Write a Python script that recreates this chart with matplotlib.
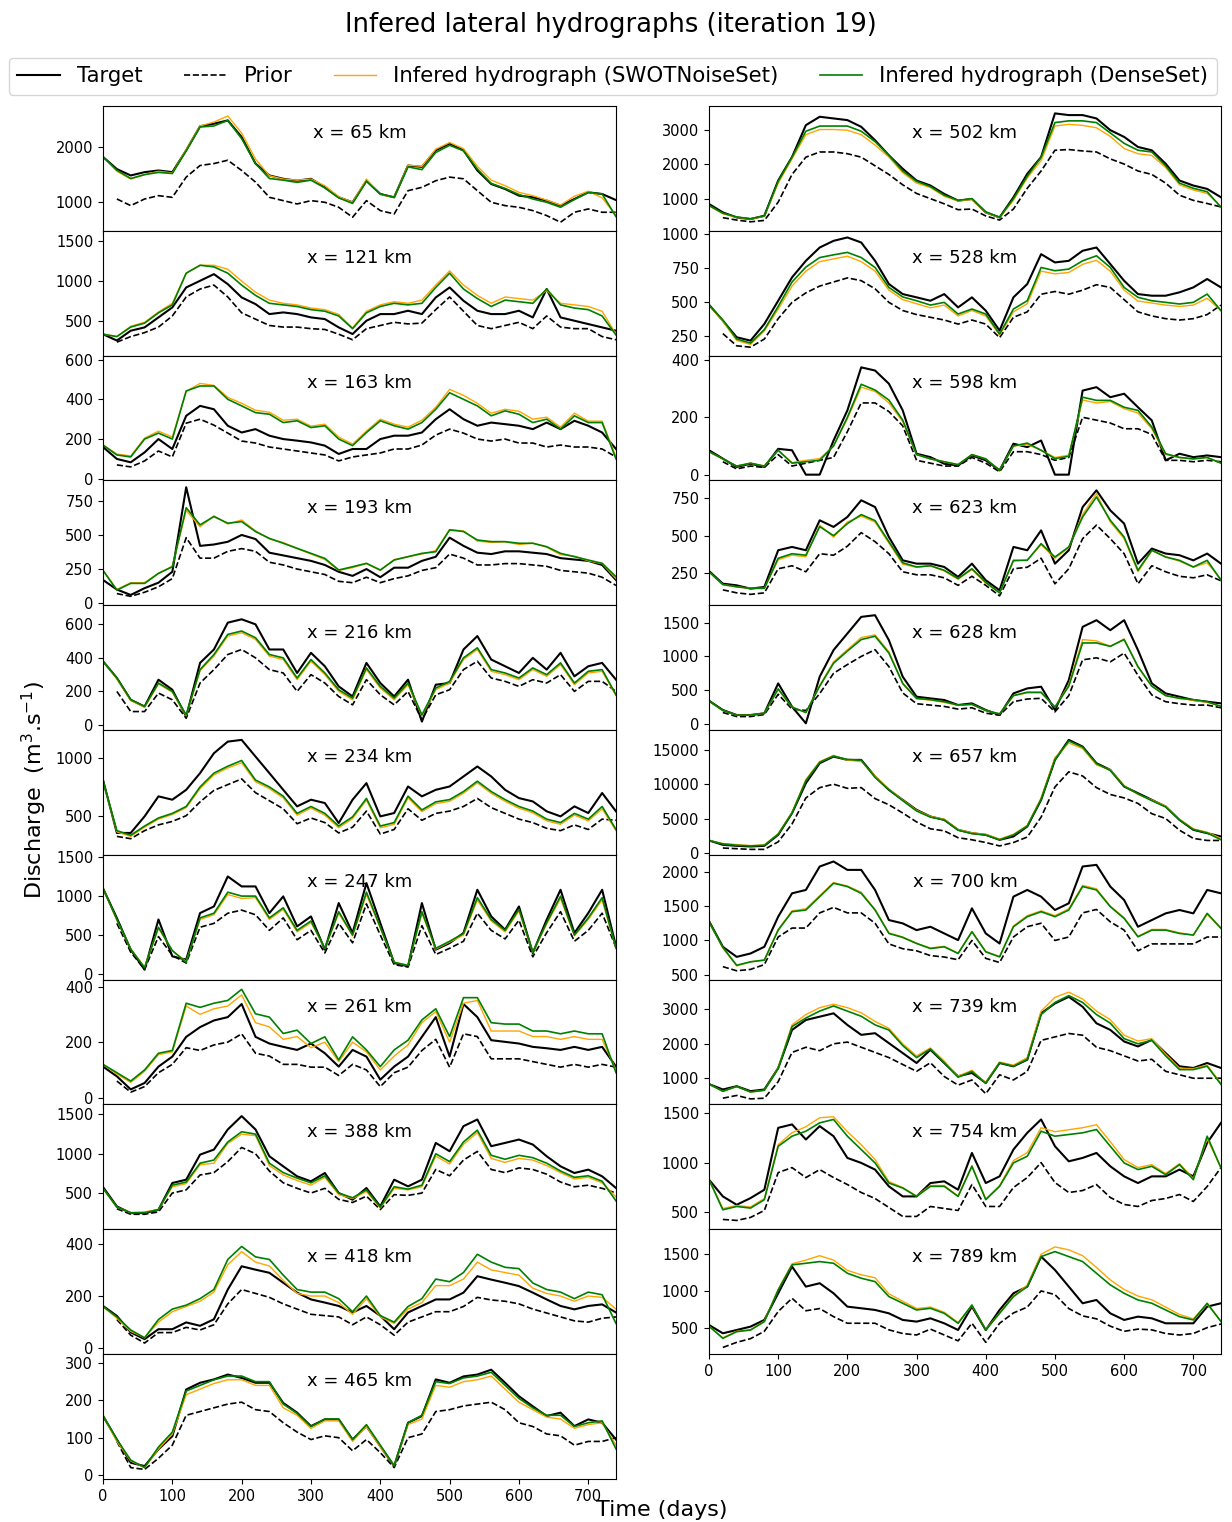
import numpy as np
import matplotlib
matplotlib.use("Agg")
import matplotlib.pyplot as plt

nan = np.nan

# sampling grid (days)
days = np.arange(0, 741, 20)

# --- left column --------------------------------------------------------
t065 = [1820, 1600, 1485, 1545, 1575, 1545, 1940, 2375, 2420, 2480, 2180, 1700, 1485, 1425, 1390, 1425, 1270, 1090, 1000, 1390, 1150, 1090, 1665, 1640, 1940, 2060, 1940, 1575, 1330, 1240, 1120, 1090, 1030, 940, 1060, 1180, 1150, 1040]
p065 = [nan, 1060, 940, 1060, 1120, 1090, 1455, 1665, 1700, 1760, 1575, 1365, 1090, 1030, 970, 1030, 1000, 910, 730, 1030, 850, 790, 1210, 1270, 1390, 1455, 1425, 1210, 1000, 940, 910, 850, 760, 640, 820, 880, 820, 820]
s065 = [1820, 1560, 1420, 1500, 1560, 1530, 1950, 2380, 2450, 2560, 2250, 1780, 1480, 1420, 1400, 1420, 1300, 1100, 1000, 1420, 1140, 1090, 1670, 1650, 1960, 2080, 1970, 1650, 1400, 1300, 1180, 1120, 1040, 950, 1110, 1200, 1080, 760]
d065 = [1820, 1580, 1430, 1500, 1540, 1520, 1930, 2360, 2380, 2480, 2150, 1700, 1430, 1400, 1360, 1400, 1260, 1080, 980, 1380, 1150, 1090, 1640, 1590, 1900, 2030, 1930, 1600, 1340, 1250, 1140, 1060, 1000, 910, 1050, 1180, 1150, 740]

t121 = [330, 250, 374, 416, 542, 668, 920, 1004, 1088, 962, 794, 710, 584, 605, 584, 542, 521, 416, 332, 500, 584, 584, 626, 584, 794, 920, 752, 626, 584, 584, 626, 542, 900, 542, 500, 458, 416, 374]
p121 = [nan, 230, 300, 350, 420, 560, 800, 900, 950, 800, 600, 520, 440, 420, 420, 400, 390, 330, 260, 400, 440, 480, 460, 470, 640, 800, 620, 440, 400, 440, 480, 400, 560, 420, 400, 400, 300, 260]
s121 = [330, 300, 430, 480, 610, 720, 1100, 1200, 1200, 1150, 1000, 860, 760, 720, 700, 660, 640, 580, 410, 620, 700, 740, 720, 760, 950, 1130, 950, 820, 720, 800, 780, 760, 880, 720, 700, 680, 620, 330]
d121 = [330, 300, 420, 470, 600, 700, 1100, 1200, 1180, 1100, 950, 820, 720, 700, 680, 640, 620, 560, 400, 600, 680, 720, 700, 720, 920, 1100, 900, 780, 680, 760, 740, 720, 900, 700, 660, 640, 560, 320]

t163 = [160, 100, 83, 133, 200, 150, 317, 367, 350, 267, 233, 250, 217, 200, 192, 183, 167, 125, 150, 150, 200, 217, 217, 233, 300, 350, 300, 267, 283, 275, 267, 250, 283, 250, 292, 267, 233, 150]
p163 = [nan, 70, 60, 90, 140, 110, 280, 300, 270, 230, 190, 180, 160, 150, 140, 130, 120, 90, 110, 120, 130, 150, 150, 170, 220, 250, 230, 200, 190, 200, 180, 180, 160, 170, 160, 160, 150, 110]
s163 = [170, 125, 115, 205, 240, 210, 440, 480, 470, 410, 380, 345, 335, 295, 300, 265, 275, 210, 175, 240, 300, 275, 260, 295, 360, 450, 420, 380, 330, 350, 340, 300, 310, 260, 330, 290, 290, 110]
d163 = [170, 120, 110, 200, 230, 200, 442, 467, 467, 400, 367, 333, 325, 283, 292, 258, 267, 200, 167, 233, 292, 267, 250, 283, 350, 433, 400, 367, 317, 342, 325, 283, 300, 250, 317, 283, 283, 100]

t193 = [170, 100, 60, 110, 150, 230, 850, 420, 430, 450, 500, 470, 370, 350, 330, 310, 280, 230, 200, 250, 190, 260, 260, 310, 340, 480, 420, 370, 360, 380, 380, 370, 360, 330, 320, 310, 280, 170]
p193 = [nan, 70, 50, 80, 120, 180, 480, 330, 330, 380, 400, 380, 300, 280, 250, 230, 210, 160, 150, 190, 150, 180, 200, 240, 260, 360, 330, 280, 280, 290, 290, 280, 270, 240, 230, 220, 190, 130]
s193 = [240, 100, 150, 150, 220, 270, 680, 560, 640, 580, 610, 530, 470, 445, 400, 360, 320, 240, 260, 290, 240, 320, 340, 360, 385, 540, 530, 455, 445, 450, 430, 440, 410, 355, 345, 310, 290, 180]
d193 = [240, 96, 145, 145, 218, 267, 700, 574, 635, 586, 598, 525, 475, 439, 402, 365, 328, 243, 267, 292, 243, 316, 341, 365, 377, 537, 525, 463, 451, 451, 439, 439, 414, 365, 341, 316, 292, 194]

t216 = [380, 280, 150, 110, 270, 210, 50, 370, 450, 610, 630, 600, 450, 450, 310, 430, 350, 230, 170, 370, 250, 170, 270, 20, 240, 250, 450, 530, 390, 350, 310, 400, 330, 430, 290, 350, 370, 270]
p216 = [nan, 200, 80, 80, 190, 150, 40, 250, 330, 420, 450, 400, 330, 310, 200, 300, 250, 170, 120, 270, 180, 120, 200, 30, 180, 210, 330, 380, 280, 260, 230, 270, 250, 300, 200, 260, 260, 200]
s216 = [380, 275, 145, 105, 245, 195, 55, 325, 410, 530, 550, 510, 410, 390, 270, 380, 300, 200, 150, 330, 220, 150, 240, 55, 210, 250, 390, 450, 320, 300, 270, 330, 290, 360, 240, 310, 320, 175]
d216 = [380, 280, 150, 110, 250, 200, 60, 330, 420, 540, 560, 520, 420, 400, 280, 390, 310, 210, 160, 340, 230, 160, 250, 60, 220, 260, 400, 460, 330, 310, 280, 340, 300, 370, 250, 320, 330, 180]

t234 = [812, 350, 350, 494, 668, 639, 725, 870, 1043, 1144, 1159, 1014, 870, 725, 581, 639, 610, 436, 639, 783, 494, 523, 754, 668, 725, 754, 841, 928, 841, 725, 653, 624, 538, 494, 581, 523, 697, 538]
p234 = [nan, 320, 300, 370, 420, 450, 500, 620, 720, 770, 820, 700, 630, 560, 430, 480, 440, 350, 400, 540, 340, 380, 560, 460, 520, 540, 580, 650, 570, 520, 470, 440, 390, 370, 420, 380, 470, 460]
s234 = [800, 360, 320, 400, 470, 510, 570, 735, 855, 915, 960, 795, 735, 655, 505, 565, 505, 395, 475, 635, 395, 425, 655, 535, 605, 625, 695, 785, 695, 625, 565, 525, 455, 425, 505, 455, 560, 370]
d234 = [800, 370, 330, 410, 480, 520, 580, 750, 870, 930, 980, 810, 750, 670, 520, 580, 520, 410, 490, 650, 410, 440, 670, 550, 620, 640, 710, 800, 710, 640, 580, 540, 470, 440, 520, 470, 580, 380]

t247 = [1100, 718, 312, 55, 700, 226, 184, 782, 867, 1252, 1124, 1124, 782, 996, 611, 739, 312, 910, 526, 1167, 654, 141, 98, 910, 312, 397, 526, 1081, 739, 568, 867, 269, 697, 1081, 526, 782, 1081, 355]
p247 = [nan, 650, 280, 60, 480, 240, 140, 600, 650, 780, 820, 760, 560, 720, 440, 560, 270, 650, 400, 900, 500, 120, 90, 620, 250, 330, 420, 780, 560, 450, 690, 220, 530, 800, 420, 560, 780, 340]
s247 = [1100, 690, 320, 90, 590, 300, 160, 700, 760, 1020, 970, 980, 700, 830, 540, 660, 330, 780, 490, 1020, 590, 150, 110, 780, 320, 410, 500, 950, 680, 540, 810, 280, 640, 970, 490, 700, 950, 330]
d247 = [1100, 700, 320, 80, 600, 300, 150, 720, 780, 1050, 1000, 1000, 720, 850, 560, 680, 330, 800, 500, 1050, 600, 150, 110, 800, 330, 420, 520, 980, 700, 560, 830, 280, 660, 1000, 500, 720, 980, 330]

t261 = [112, 77, 30, 53, 112, 148, 219, 254, 278, 290, 337, 219, 195, 183, 172, 195, 160, 112, 172, 148, 65, 112, 148, 219, 290, 148, 337, 290, 207, 201, 195, 183, 178, 172, 183, 172, 183, 112]
p261 = [nan, 60, 20, 40, 90, 120, 180, 170, 190, 200, 230, 160, 150, 120, 120, 110, 110, 80, 120, 100, 40, 90, 110, 170, 210, 110, 230, 220, 140, 140, 140, 130, 120, 110, 120, 110, 120, 110]
s261 = [120, 85, 55, 95, 155, 165, 330, 300, 320, 330, 370, 270, 255, 210, 220, 180, 200, 130, 200, 165, 100, 150, 190, 270, 310, 200, 340, 350, 240, 240, 240, 220, 220, 210, 220, 210, 210, 100]
d261 = [120, 90, 60, 100, 160, 170, 340, 325, 340, 350, 390, 302, 290, 231, 243, 195, 219, 136, 219, 172, 112, 172, 207, 280, 320, 220, 360, 360, 270, 265, 265, 240, 240, 230, 240, 230, 230, 90]

t388 = [577, 330, 245, 245, 287, 628, 670, 989, 1053, 1309, 1479, 1309, 968, 840, 713, 649, 755, 500, 415, 564, 330, 670, 585, 670, 1138, 1032, 1351, 1436, 1096, 1138, 1181, 1117, 968, 840, 755, 798, 713, 564]
p388 = [nan, 300, 230, 230, 260, 500, 540, 730, 760, 900, 1080, 1000, 780, 630, 560, 500, 560, 420, 380, 460, 290, 480, 470, 500, 800, 720, 920, 1030, 800, 760, 820, 800, 740, 640, 580, 600, 560, 500]
s388 = [560, 320, 250, 260, 290, 580, 620, 860, 880, 1130, 1250, 1230, 850, 730, 660, 600, 700, 480, 430, 520, 310, 560, 540, 580, 970, 870, 1120, 1270, 940, 890, 940, 920, 850, 760, 680, 700, 630, 450]
d388 = [560, 320, 250, 250, 290, 600, 640, 880, 920, 1150, 1280, 1250, 880, 760, 690, 630, 720, 500, 440, 540, 320, 580, 550, 600, 1000, 900, 1150, 1300, 980, 930, 980, 950, 880, 780, 700, 720, 650, 400]

t418 = [162, 124, 61, 35, 73, 73, 99, 86, 111, 225, 314, 301, 289, 251, 213, 187, 175, 162, 137, 162, 124, 73, 137, 162, 187, 187, 213, 276, 263, 251, 238, 213, 187, 162, 149, 162, 168, 137]
p418 = [nan, 110, 50, 20, 60, 60, 80, 70, 90, 170, 225, 210, 195, 170, 150, 130, 125, 120, 90, 120, 90, 50, 100, 120, 140, 140, 160, 195, 185, 180, 170, 150, 135, 120, 105, 100, 115, 120]
s418 = [160, 115, 65, 40, 100, 140, 160, 180, 215, 320, 370, 330, 315, 260, 210, 200, 200, 175, 130, 190, 120, 95, 150, 175, 240, 240, 265, 330, 300, 290, 280, 230, 210, 200, 180, 200, 195, 150]
d418 = [160, 120, 70, 40, 110, 150, 165, 190, 225, 340, 390, 350, 340, 280, 225, 215, 215, 190, 140, 200, 125, 100, 160, 190, 265, 255, 290, 360, 330, 310, 305, 250, 225, 215, 190, 215, 205, 95]

t465 = [158, 95, 33, 24, 69, 104, 229, 247, 256, 269, 260, 247, 247, 193, 167, 131, 149, 149, 95, 131, 77, 24, 140, 158, 256, 247, 264, 269, 282, 247, 211, 184, 158, 167, 131, 149, 140, 95]
p465 = [nan, 90, 20, 15, 45, 80, 160, 170, 180, 190, 195, 175, 170, 140, 115, 95, 105, 100, 65, 95, 60, 20, 100, 110, 170, 175, 185, 190, 195, 175, 140, 130, 110, 105, 80, 90, 90, 100]
s465 = [160, 90, 38, 20, 70, 110, 215, 230, 245, 255, 255, 240, 240, 180, 160, 125, 145, 145, 90, 130, 75, 25, 135, 150, 240, 235, 250, 255, 265, 230, 195, 175, 155, 150, 125, 135, 140, 80]
d465 = [160, 95, 40, 20, 75, 115, 225, 240, 255, 265, 265, 250, 250, 190, 165, 130, 150, 150, 95, 135, 80, 25, 140, 160, 250, 245, 260, 265, 275, 240, 205, 180, 160, 160, 130, 140, 145, 70]

# --- right column -------------------------------------------------------
t502 = [845, 602, 456, 408, 505, 1524, 2204, 3126, 3369, 3320, 3272, 3078, 2689, 2252, 1864, 1524, 1379, 1136, 942, 990, 602, 456, 1039, 1718, 2204, 3466, 3417, 3417, 3320, 2981, 2786, 2495, 2398, 2010, 1524, 1379, 1282, 1039]
p502 = [nan, 450, 380, 330, 370, 900, 1700, 2200, 2350, 2350, 2300, 2200, 1950, 1700, 1400, 1150, 1000, 850, 680, 700, 500, 380, 700, 1300, 1800, 2400, 2420, 2380, 2350, 2150, 2000, 1800, 1700, 1450, 1100, 950, 860, 760]
s502 = [800, 560, 460, 410, 490, 1450, 2150, 2850, 3000, 3000, 2980, 2850, 2550, 2200, 1750, 1450, 1320, 1070, 930, 980, 600, 450, 950, 1600, 2100, 3100, 3150, 3120, 3050, 2800, 2450, 2300, 2250, 1900, 1400, 1250, 1150, 780]
d502 = [800, 580, 470, 420, 500, 1500, 2200, 2950, 3100, 3100, 3100, 2950, 2650, 2250, 1800, 1500, 1350, 1100, 950, 1000, 620, 460, 1000, 1650, 2200, 3200, 3250, 3250, 3200, 2900, 2600, 2400, 2350, 1950, 1450, 1300, 1200, 750]

t528 = [483, 365, 243, 218, 341, 512, 684, 806, 904, 953, 978, 941, 806, 635, 561, 537, 512, 561, 463, 537, 439, 292, 537, 635, 855, 794, 806, 880, 904, 782, 659, 561, 549, 549, 574, 610, 672, 610]
p528 = [nan, 270, 180, 170, 230, 380, 500, 570, 620, 650, 680, 660, 600, 500, 440, 410, 390, 370, 340, 370, 340, 240, 390, 430, 560, 580, 560, 590, 630, 610, 520, 430, 400, 380, 370, 380, 410, 480]
s528 = [480, 360, 220, 190, 290, 450, 620, 730, 800, 820, 840, 800, 730, 590, 520, 490, 460, 480, 400, 440, 400, 260, 430, 490, 730, 710, 720, 780, 810, 730, 590, 510, 495, 480, 470, 480, 530, 440]
d528 = [480, 370, 230, 200, 300, 470, 650, 760, 830, 850, 868, 830, 757, 610, 540, 512, 480, 500, 414, 451, 414, 267, 451, 512, 757, 733, 745, 806, 843, 757, 610, 537, 512, 500, 488, 500, 561, 439]

t598 = [85, 56, 27, 38, 27, 90, 85, 0, 0, 119, 224, 374, 363, 317, 224, 73, 61, 38, 32, 67, 50, 15, 108, 96, 119, 0, 0, 293, 305, 270, 282, 235, 189, 50, 73, 61, 67, 61]
p598 = [nan, 45, 20, 30, 25, 70, 30, 40, 50, 60, 150, 250, 250, 220, 170, 50, 40, 30, 30, 60, 40, 10, 80, 80, 70, 50, 60, 200, 190, 180, 160, 160, 140, 50, 50, 45, 50, 45]
s598 = [80, 55, 30, 40, 30, 85, 42, 50, 56, 100, 195, 305, 290, 250, 185, 70, 55, 45, 35, 70, 55, 15, 100, 105, 85, 60, 68, 260, 250, 255, 230, 215, 160, 70, 60, 55, 60, 40]
d598 = [80, 55, 30, 40, 30, 85, 40, 45, 50, 100, 200, 315, 295, 260, 190, 70, 55, 45, 35, 70, 55, 15, 100, 110, 85, 56, 64, 270, 259, 259, 235, 224, 166, 73, 60, 55, 60, 40]

t623 = [265, 181, 170, 148, 159, 403, 425, 403, 602, 558, 624, 735, 690, 491, 336, 314, 314, 292, 226, 314, 204, 137, 425, 403, 535, 314, 403, 690, 801, 668, 580, 314, 414, 381, 370, 336, 381, 314]
p623 = [nan, 140, 120, 110, 120, 280, 300, 260, 380, 370, 430, 520, 460, 380, 260, 240, 240, 220, 170, 230, 170, 100, 280, 290, 350, 180, 280, 480, 570, 480, 380, 180, 300, 260, 230, 220, 240, 200]
s623 = [260, 175, 160, 150, 150, 340, 370, 360, 570, 490, 590, 630, 590, 450, 310, 290, 300, 265, 210, 275, 185, 120, 330, 340, 440, 350, 420, 640, 780, 590, 480, 260, 400, 360, 330, 290, 320, 210]
d623 = [260, 175, 160, 150, 150, 350, 380, 370, 560, 500, 580, 640, 600, 460, 320, 292, 300, 270, 215, 280, 190, 120, 336, 336, 447, 358, 425, 624, 757, 602, 491, 270, 403, 358, 336, 292, 336, 204]

t628 = [345, 207, 133, 133, 158, 601, 256, 10, 700, 1094, 1340, 1586, 1611, 1241, 700, 404, 379, 355, 281, 305, 207, 133, 453, 527, 552, 207, 650, 1438, 1537, 1389, 1537, 1094, 601, 453, 404, 355, 330, 305]
p628 = [nan, 170, 110, 110, 140, 440, 220, 200, 450, 750, 880, 1000, 1100, 850, 460, 300, 280, 260, 220, 240, 160, 130, 330, 370, 380, 180, 420, 950, 980, 920, 1050, 720, 430, 330, 300, 280, 280, 240]
s628 = [340, 200, 130, 130, 160, 510, 250, 170, 570, 920, 1100, 1280, 1320, 1070, 600, 370, 355, 320, 275, 290, 200, 150, 420, 460, 460, 250, 580, 1250, 1230, 1150, 1260, 840, 560, 420, 380, 350, 320, 260]
d628 = [340, 200, 130, 130, 160, 520, 250, 170, 560, 900, 1080, 1250, 1300, 1050, 600, 380, 360, 330, 280, 290, 200, 150, 420, 470, 470, 250, 560, 1200, 1200, 1150, 1250, 850, 560, 420, 380, 360, 330, 260]

t657 = [1800, 1165, 1019, 922, 1019, 2621, 5777, 10146, 13058, 14029, 13544, 13544, 11117, 9175, 7718, 6262, 5291, 4806, 3350, 2864, 2621, 1893, 2379, 3835, 7718, 13544, 16456, 15485, 13058, 12087, 9660, 8689, 7718, 6748, 4806, 3350, 2864, 2379]
p657 = [nan, 700, 600, 500, 500, 1600, 4200, 8000, 9500, 10000, 9400, 9500, 7900, 7000, 5800, 4500, 3500, 3200, 2200, 1900, 1500, 1000, 1500, 2300, 5200, 9600, 11800, 11200, 9500, 8500, 8000, 7200, 5700, 5000, 3300, 2100, 1800, 1800]
s657 = [1800, 1350, 1200, 1050, 1150, 2800, 5900, 10700, 13300, 14200, 13500, 13300, 11200, 9300, 7700, 6200, 5300, 4900, 3400, 2900, 2700, 2000, 2700, 4000, 8000, 13900, 16000, 15200, 12800, 12100, 9800, 8500, 7700, 6800, 4900, 3500, 3000, 2100]
d657 = [1800, 1300, 1100, 1000, 1100, 2700, 5800, 10500, 13200, 14100, 13600, 13500, 11000, 9200, 7600, 6100, 5200, 4800, 3300, 2800, 2600, 1900, 2600, 3900, 7800, 13600, 16300, 15400, 13000, 12000, 9700, 8600, 7600, 6700, 4800, 3400, 2900, 1900]

t700 = [1282, 908, 762, 811, 908, 1345, 1684, 1733, 2073, 2146, 2024, 2024, 1733, 1296, 1248, 1150, 1199, 1102, 1005, 1466, 1102, 956, 1636, 1733, 1636, 1442, 1539, 2073, 2097, 1782, 1587, 1199, 1296, 1393, 1442, 1393, 1733, 1684]
p700 = [nan, 620, 560, 580, 650, 1050, 1180, 1180, 1400, 1480, 1400, 1400, 1250, 950, 880, 850, 780, 760, 720, 1000, 740, 680, 1050, 1200, 1250, 1000, 1050, 1400, 1450, 1270, 1150, 850, 950, 950, 950, 950, 1050, 1050]
s700 = [1270, 890, 630, 690, 720, 1160, 1430, 1460, 1650, 1840, 1790, 1700, 1450, 1110, 1050, 960, 890, 915, 815, 1130, 840, 765, 1210, 1360, 1430, 1360, 1460, 1800, 1750, 1500, 1330, 1060, 1160, 1160, 1110, 1080, 1380, 1180]
d700 = [1270, 900, 640, 690, 714, 1150, 1417, 1442, 1636, 1830, 1782, 1684, 1442, 1102, 1044, 956, 883, 908, 811, 1126, 835, 762, 1199, 1345, 1417, 1345, 1442, 1782, 1733, 1490, 1320, 1053, 1150, 1150, 1102, 1078, 1393, 1175]

t739 = [830, 673, 769, 625, 673, 1298, 2404, 2692, 2788, 2885, 2548, 2260, 2308, 2019, 1731, 1442, 1827, 1442, 1058, 1154, 865, 1442, 1346, 1538, 2885, 3173, 3365, 3077, 2596, 2404, 2067, 1923, 2115, 1731, 1346, 1298, 1442, 1298]
p739 = [nan, 420, 500, 400, 420, 900, 1750, 1900, 1800, 2000, 2050, 1900, 1750, 1600, 1400, 1200, 1450, 1050, 800, 950, 550, 1100, 950, 1200, 2100, 2200, 2300, 2250, 1900, 1800, 1650, 1500, 1550, 1200, 1100, 1000, 1000, 1000]
s739 = [830, 620, 760, 600, 650, 1300, 2550, 2850, 3050, 3150, 3050, 2900, 2650, 2450, 2000, 1650, 1880, 1500, 1060, 1230, 870, 1470, 1380, 1600, 2950, 3350, 3500, 3300, 2950, 2700, 2250, 2080, 2150, 1700, 1290, 1280, 1380, 850]
d739 = [830, 620, 760, 600, 650, 1280, 2500, 2750, 2950, 3100, 2950, 2800, 2550, 2400, 1950, 1600, 1850, 1450, 1030, 1200, 850, 1450, 1350, 1550, 2850, 3200, 3400, 3200, 2850, 2600, 2150, 2000, 2100, 1650, 1250, 1250, 1350, 820]

t754 = [829, 661, 577, 644, 728, 1349, 1383, 1232, 1366, 1265, 1047, 997, 930, 762, 661, 661, 795, 812, 728, 1097, 795, 862, 1131, 1299, 1433, 1164, 1013, 1047, 1097, 963, 862, 795, 862, 862, 930, 862, 1198, 1399]
p754 = [nan, 430, 420, 450, 520, 900, 950, 850, 930, 850, 780, 700, 640, 550, 460, 460, 560, 540, 520, 780, 560, 560, 750, 850, 1000, 800, 700, 720, 780, 650, 580, 560, 620, 640, 680, 610, 760, 950]
s754 = [830, 540, 570, 555, 640, 1180, 1300, 1360, 1450, 1460, 1310, 1180, 1030, 810, 750, 665, 770, 770, 665, 970, 635, 770, 1020, 1100, 1350, 1310, 1330, 1350, 1380, 1210, 1030, 950, 980, 890, 990, 840, 1240, 950]
d754 = [830, 527, 560, 544, 628, 1164, 1265, 1315, 1399, 1433, 1265, 1131, 997, 795, 745, 661, 762, 762, 661, 963, 628, 762, 997, 1064, 1315, 1265, 1282, 1299, 1332, 1164, 997, 930, 963, 879, 980, 829, 1265, 946]

t789 = [536, 423, 468, 514, 605, 968, 1332, 1059, 1105, 968, 786, 764, 741, 695, 605, 582, 627, 559, 468, 786, 468, 741, 968, 1059, 1468, 1286, 1059, 832, 877, 695, 605, 650, 627, 559, 559, 559, 786, 832]
p789 = [nan, 230, 300, 350, 450, 720, 900, 730, 760, 650, 560, 560, 560, 470, 420, 400, 480, 400, 320, 560, 300, 560, 700, 780, 1000, 950, 760, 660, 620, 520, 450, 480, 470, 420, 400, 420, 500, 550]
s789 = [520, 360, 450, 470, 590, 1020, 1370, 1420, 1480, 1420, 1280, 1220, 1180, 960, 860, 760, 780, 710, 570, 800, 475, 700, 930, 1080, 1500, 1600, 1560, 1480, 1320, 1150, 1020, 930, 880, 780, 680, 620, 820, 590]
d789 = [520, 355, 445, 468, 582, 1014, 1355, 1377, 1400, 1377, 1241, 1173, 1127, 923, 832, 741, 764, 695, 559, 809, 468, 695, 923, 1059, 1468, 1536, 1468, 1400, 1241, 1082, 968, 877, 832, 741, 650, 605, 832, 582]

# (km, target, prior, SWOTNoiseSet, DenseSet)
left_panels = [
    (65, t065, p065, s065, d065), (121, t121, p121, s121, d121),
    (163, t163, p163, s163, d163), (193, t193, p193, s193, d193),
    (216, t216, p216, s216, d216), (234, t234, p234, s234, d234),
    (247, t247, p247, s247, d247), (261, t261, p261, s261, d261),
    (388, t388, p388, s388, d388), (418, t418, p418, s418, d418),
    (465, t465, p465, s465, d465),
]
right_panels = [
    (502, t502, p502, s502, d502), (528, t528, p528, s528, d528),
    (598, t598, p598, s598, d598), (623, t623, p623, s623, d623),
    (628, t628, p628, s628, d628), (657, t657, p657, s657, d657),
    (700, t700, p700, s700, d700), (739, t739, p739, s739, d739),
    (754, t754, p754, s754, d754), (789, t789, p789, s789, d789),
]

# axis settings per panel: (yticks, ylim)
left_axes = [
    ([1000, 2000], (485, 2740)), ([500, 1000, 1500], (60, 1635)),
    ([0, 200, 400, 600], (-8, 620)), ([0, 250, 500, 750], (-15, 900)),
    ([0, 200, 400, 600], (-30, 714)), ([500, 1000], (160, 1245)),
    ([0, 500, 1000, 1500], (-72, 1530)), ([0, 200, 400], (-24, 425)),
    ([500, 1000, 1500], (40, 1628)), ([0, 200, 400], (-22, 456)),
    ([0, 100, 200, 300], (-10, 324)),
]
right_axes = [
    ([1000, 2000, 3000], (70, 3680)), ([250, 500, 750, 1000], (108, 1027)),
    ([0, 200, 400], (-20, 415)), ([250, 500, 750], (38, 867)),
    ([0, 500, 1000, 1500], (-89, 1759)), ([0, 5000, 10000, 15000], (-290, 17900)),
    ([500, 1000, 1500, 2000], (432, 2243)), ([1000, 2000, 3000], (240, 3865)),
    ([500, 1000, 1500], (332, 1584)), ([500, 1000, 1500], (141, 1841)),
]


def draw_panel(ax, km, target, prior, swot, dense, yticks, ylim):
    ax.plot(days, target, color='black', lw=1.5, label='Target')
    ax.plot(days, prior, color='black', lw=1.2, ls='--', label='Prior')
    ax.plot(days, swot, color='orange', lw=1.0, label='Infered hydrograph (SWOTNoiseSet)')
    ax.plot(days, dense, color='green', lw=1.2, label='Infered hydrograph (DenseSet)')
    ax.set_xlim(0, 740)
    ax.set_ylim(*ylim)
    ax.set_yticks(yticks)
    ax.set_xticks(range(0, 701, 100))
    ax.tick_params(labelsize=10.5)
    ax.text(0.5, 0.78, f'x = {km} km', transform=ax.transAxes,
            ha='center', va='center', fontsize=13)


fig = plt.figure(figsize=(12.32, 15.22), dpi=100)

row_h = 124.8 / 1522
top = 1 - 106 / 1522
gs_left = fig.add_gridspec(11, 1, left=103 / 1232, right=616 / 1232,
                           top=top, bottom=top - 11 * row_h, hspace=0)
gs_right = fig.add_gridspec(10, 1, left=709 / 1232, right=1221 / 1232,
                            top=top, bottom=top - 10 * row_h, hspace=0)

axes = []
for i, (panel, spec) in enumerate(zip(left_panels, left_axes)):
    ax = fig.add_subplot(gs_left[i, 0])
    draw_panel(ax, *panel, *spec)
    if i < len(left_panels) - 1:
        ax.tick_params(labelbottom=False)
    axes.append(ax)
for i, (panel, spec) in enumerate(zip(right_panels, right_axes)):
    ax = fig.add_subplot(gs_right[i, 0])
    draw_panel(ax, *panel, *spec)
    if i < len(right_panels) - 1:
        ax.tick_params(labelbottom=False)
    axes.append(ax)

handles, labels = axes[0].get_legend_handles_labels()
fig.legend(handles, labels, loc='upper center', bbox_to_anchor=(0.4975, 1 - 47 / 1522),
           ncol=4, fontsize=15.3, columnspacing=1.95, handlelength=2.0)

fig.text(0.496, 1 - 25 / 1522, 'Infered lateral hydrographs (iteration 19)',
         ha='center', va='center', fontsize=18.5)
fig.text(0.028, 1 - 790 / 1522, 'Discharge  (m$^3$.s$^{-1}$)', rotation=90,
         ha='center', va='center', fontsize=16)
fig.text(0.537, 1 - 1510 / 1522, 'Time (days)', ha='center', va='center', fontsize=16)

fig.savefig('out.png', dpi=100)
